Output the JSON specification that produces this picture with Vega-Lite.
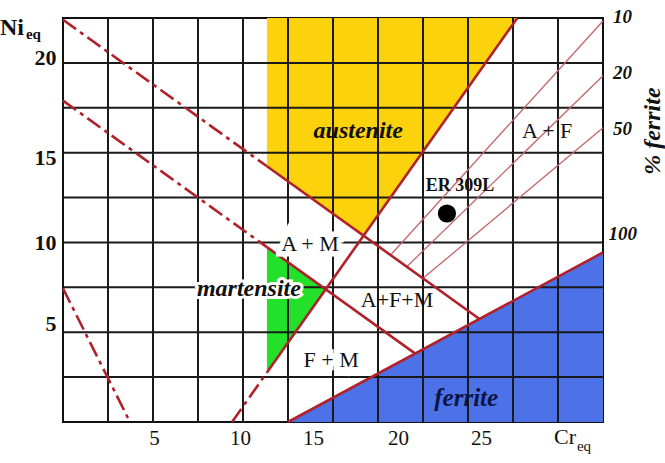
{
  "$schema": "https://vega.github.io/schema/vega-lite/v6.json",
  "width": 540,
  "height": 404,
  "autosize": {"type": "none"},
  "padding": {"left": 63, "top": 18, "right": 62, "bottom": 41},
  "background": "white",
  "config": {"view": {"stroke": "#111111", "strokeWidth": 2}, "font": "Liberation Serif"},
  "datasets": {
    "regions": [
      {"phase": "austenite", "x": 11.33, "y": 14.24, "y2": 22.5},
      {"phase": "austenite", "x": 16.70, "y": 10.38, "y2": 22.5},
      {"phase": "austenite", "x": 25.24, "y": 22.5, "y2": 22.5},
      {"phase": "martensite", "x": 11.33, "y": 2.76, "y2": 9.74},
      {"phase": "martensite", "x": 14.59, "y": 7.39, "y2": 7.39},
      {"phase": "ferrite", "x": 12.5, "y": 0, "y2": 0},
      {"phase": "ferrite", "x": 30, "y": 0, "y2": 9.44}
    ],
    "gridX": [{"x": 2.5}, {"x": 5}, {"x": 7.5}, {"x": 10}, {"x": 12.5}, {"x": 15}, {"x": 17.5}, {"x": 20}, {"x": 22.5}, {"x": 25}, {"x": 27.5}],
    "gridY": [{"y": 2.5}, {"y": 5}, {"y": 7.5}, {"y": 10}, {"y": 12.5}, {"y": 15}, {"y": 17.5}, {"y": 20}],
    "boundaries": [
      {"kind": "solid", "x": 11.33, "y": 9.74, "x2": 19.57, "y2": 3.81},
      {"kind": "solid", "x": 11.33, "y": 14.24, "x2": 23.14, "y2": 5.74},
      {"kind": "solid", "x": 11.33, "y": 2.76, "x2": 25.24, "y2": 22.5},
      {"kind": "solid", "x": 12.5, "y": 0, "x2": 30, "y2": 9.44},
      {"kind": "dashed", "x": 0, "y": 22.4, "x2": 11.33, "y2": 14.24},
      {"kind": "dashed", "x": 0, "y": 17.9, "x2": 11.33, "y2": 9.74},
      {"kind": "dashed", "x": 0, "y": 7.44, "x2": 3.72, "y2": 0},
      {"kind": "dashed", "x": 9.39, "y": 0, "x2": 11.33, "y2": 2.76},
      {"kind": "iso", "x": 18.2, "y": 9.3, "x2": 30, "y2": 22.33},
      {"kind": "iso", "x": 19.1, "y": 8.65, "x2": 30, "y2": 19.28},
      {"kind": "iso", "x": 20.0, "y": 8.0, "x2": 30, "y2": 16.39}
    ],
    "labels": [
      {"g": "phase", "t": "austenite", "x": 16.4, "y": 16.2},
      {"g": "phase", "t": "martensite", "x": 10.33, "y": 7.39},
      {"g": "ferrite", "t": "ferrite", "x": 22.4, "y": 1.33},
      {"g": "region", "t": "A + F", "x": 26.9, "y": 16.2},
      {"g": "region", "t": "A + M", "x": 13.72, "y": 9.94},
      {"g": "region", "t": "A+F+M", "x": 18.56, "y": 6.78},
      {"g": "region", "t": "F + M", "x": 14.9, "y": 3.44},
      {"g": "alloy", "t": "ER 309L", "x": 22.06, "y": 13.17},
      {"g": "pct", "t": "10", "x": 30.55, "y": 22.55},
      {"g": "pct", "t": "20", "x": 30.55, "y": 19.44},
      {"g": "pct", "t": "50", "x": 30.55, "y": 16.33},
      {"g": "pct", "t": "100", "x": 30.3, "y": 10.45},
      {"g": "pctTitle", "t": "% ferrite", "x": 32.8, "y": 16.2},
      {"g": "xTitle", "t": "Cr", "x": 28.5, "y": -0.83},
      {"g": "xSub", "t": "eq", "x": 28.55, "y": -1.36},
      {"g": "yTitle", "t": "Ni", "x": -2.17, "y": 21.94},
      {"g": "ySub", "t": "eq", "x": -2.06, "y": 21.6}
    ],
    "alloys": [{"name": "ER 309L", "x": 21.33, "y": 11.61}]
  },
  "layer": [
    {
      "data": {"name": "regions"},
      "mark": {"type": "area", "opacity": 1},
      "encoding": {
        "x": {"field": "x", "type": "quantitative", "title": null, "scale": {"domain": [0, 30], "nice": false, "zero": false},
              "axis": {"values": [5, 10, 15, 20, 25], "title": null, "grid": false, "ticks": false, "domain": false,
                       "labelFont": "Liberation Serif", "labelFontSize": 21, "labelColor": "#111111", "labelPadding": 5, "labelFlush": false,
                       "labelOffset": {"condition": [
                         {"test": "datum.value == 10", "value": -3},
                         {"test": "datum.value == 15", "value": -20},
                         {"test": "datum.value == 20", "value": -25},
                         {"test": "datum.value == 25", "value": -32}
                       ], "value": 1}}},
        "y": {"field": "y", "type": "quantitative", "title": null, "scale": {"domain": [0, 22.5], "nice": false, "zero": false},
              "axis": {"values": [5, 10, 15, 20], "title": null, "grid": false, "ticks": false, "domain": false,
                       "labelFont": "Liberation Serif", "labelFontSize": 22, "labelFontWeight": "bold", "labelColor": "#111111", "labelPadding": 7, "labelFlush": false,
                       "labelOffset": {"condition": [
                         {"test": "datum.value == 5", "value": -9},
                         {"test": "datum.value == 15", "value": 5},
                         {"test": "datum.value == 20", "value": -5}
                       ], "value": 0}}},
        "y2": {"field": "y2"},
        "color": {"field": "phase", "type": "nominal", "legend": null,
                  "scale": {"domain": ["austenite", "martensite", "ferrite"], "range": ["#FBD20B", "#23E02B", "#4D72E8"]}}
      }
    },
    {
      "data": {"name": "gridX"},
      "mark": {"type": "rule", "color": "#1a1a1a", "strokeWidth": 2},
      "encoding": {"x": {"field": "x", "type": "quantitative", "title": null}}
    },
    {
      "data": {"name": "gridY"},
      "mark": {"type": "rule", "color": "#1a1a1a", "strokeWidth": 2},
      "encoding": {"y": {"field": "y", "type": "quantitative", "title": null}}
    },
    {
      "data": {"name": "boundaries"},
      "transform": [{"filter": "datum.kind == 'iso'"}],
      "mark": {"type": "rule", "color": "#C2666C", "strokeWidth": 1.3},
      "encoding": {
        "x": {"field": "x", "type": "quantitative", "title": null},
        "y": {"field": "y", "type": "quantitative", "title": null},
        "x2": {"field": "x2"}, "y2": {"field": "y2"}
      }
    },
    {
      "data": {"name": "boundaries"},
      "transform": [{"filter": "datum.kind == 'solid'"}],
      "mark": {"type": "rule", "color": "#B0222B", "strokeWidth": 2.6},
      "encoding": {
        "x": {"field": "x", "type": "quantitative", "title": null},
        "y": {"field": "y", "type": "quantitative", "title": null},
        "x2": {"field": "x2"}, "y2": {"field": "y2"}
      }
    },
    {
      "data": {"name": "boundaries"},
      "transform": [{"filter": "datum.kind == 'dashed'"}],
      "mark": {"type": "rule", "color": "#B0222B", "strokeWidth": 2.6, "strokeDash": [16, 5, 4, 5]},
      "encoding": {
        "x": {"field": "x", "type": "quantitative", "title": null},
        "y": {"field": "y", "type": "quantitative", "title": null},
        "x2": {"field": "x2"}, "y2": {"field": "y2"}
      }
    },
    {
      "data": {"name": "labels"},
      "transform": [{"filter": "datum.t == 'A + M' || datum.t == 'F + M'"}],
      "mark": {"type": "text", "font": "Liberation Serif", "fontSize": 22, "stroke": "white", "strokeWidth": 11, "fill": "white"},
      "encoding": {
        "x": {"field": "x", "type": "quantitative", "title": null},
        "y": {"field": "y", "type": "quantitative", "title": null},
        "text": {"field": "t"}
      }
    },
    {
      "data": {"name": "labels"},
      "transform": [{"filter": "datum.t == 'martensite'"}],
      "mark": {"type": "text", "font": "Liberation Serif", "fontSize": 24, "fontWeight": "bold", "fontStyle": "italic", "stroke": "white", "strokeWidth": 6, "fill": "white"},
      "encoding": {
        "x": {"field": "x", "type": "quantitative", "title": null},
        "y": {"field": "y", "type": "quantitative", "title": null},
        "text": {"field": "t"}
      }
    },
    {
      "data": {"name": "labels"},
      "transform": [{"filter": "datum.g == 'phase'"}],
      "mark": {"type": "text", "font": "Liberation Serif", "fontSize": 24, "fontWeight": "bold", "fontStyle": "italic", "color": "#111111"},
      "encoding": {
        "x": {"field": "x", "type": "quantitative", "title": null},
        "y": {"field": "y", "type": "quantitative", "title": null},
        "text": {"field": "t"}
      }
    },
    {
      "data": {"name": "labels"},
      "transform": [{"filter": "datum.g == 'ferrite'"}],
      "mark": {"type": "text", "font": "Liberation Serif", "fontSize": 25, "fontWeight": "bold", "fontStyle": "italic", "color": "#0B1545"},
      "encoding": {
        "x": {"field": "x", "type": "quantitative", "title": null},
        "y": {"field": "y", "type": "quantitative", "title": null},
        "text": {"field": "t"}
      }
    },
    {
      "data": {"name": "labels"},
      "transform": [{"filter": "datum.g == 'region'"}],
      "mark": {"type": "text", "font": "Liberation Serif", "fontSize": 22, "color": "#111111"},
      "encoding": {
        "x": {"field": "x", "type": "quantitative", "title": null},
        "y": {"field": "y", "type": "quantitative", "title": null},
        "text": {"field": "t"}
      }
    },
    {
      "data": {"name": "labels"},
      "transform": [{"filter": "datum.g == 'alloy'"}],
      "mark": {"type": "text", "font": "Liberation Serif", "fontSize": 18, "fontWeight": "bold", "color": "#111111"},
      "encoding": {
        "x": {"field": "x", "type": "quantitative", "title": null},
        "y": {"field": "y", "type": "quantitative", "title": null},
        "text": {"field": "t"}
      }
    },
    {
      "data": {"name": "alloys"},
      "mark": {"type": "point", "filled": true, "color": "#000000", "opacity": 1, "size": 330},
      "encoding": {
        "x": {"field": "x", "type": "quantitative", "title": null},
        "y": {"field": "y", "type": "quantitative", "title": null}
      }
    },
    {
      "data": {"name": "labels"},
      "transform": [{"filter": "datum.g == 'pct'"}],
      "mark": {"type": "text", "font": "Liberation Serif", "fontSize": 19, "fontWeight": "bold", "fontStyle": "italic", "align": "left", "color": "#111111"},
      "encoding": {
        "x": {"field": "x", "type": "quantitative", "title": null},
        "y": {"field": "y", "type": "quantitative", "title": null},
        "text": {"field": "t"}
      }
    },
    {
      "data": {"name": "labels"},
      "transform": [{"filter": "datum.g == 'pctTitle'"}],
      "mark": {"type": "text", "font": "Liberation Serif", "fontSize": 24, "fontWeight": "bold", "fontStyle": "italic", "angle": 270, "color": "#111111"},
      "encoding": {
        "x": {"field": "x", "type": "quantitative", "title": null},
        "y": {"field": "y", "type": "quantitative", "title": null},
        "text": {"field": "t"}
      }
    },
    {
      "data": {"name": "labels"},
      "transform": [{"filter": "datum.g == 'xTitle'"}],
      "mark": {"type": "text", "font": "Liberation Serif", "fontSize": 22, "align": "right", "color": "#111111"},
      "encoding": {
        "x": {"field": "x", "type": "quantitative", "title": null},
        "y": {"field": "y", "type": "quantitative", "title": null},
        "text": {"field": "t"}
      }
    },
    {
      "data": {"name": "labels"},
      "transform": [{"filter": "datum.g == 'xSub'"}],
      "mark": {"type": "text", "font": "Liberation Serif", "fontSize": 15, "align": "left", "color": "#111111"},
      "encoding": {
        "x": {"field": "x", "type": "quantitative", "title": null},
        "y": {"field": "y", "type": "quantitative", "title": null},
        "text": {"field": "t"}
      }
    },
    {
      "data": {"name": "labels"},
      "transform": [{"filter": "datum.g == 'yTitle'"}],
      "mark": {"type": "text", "font": "Liberation Serif", "fontSize": 24, "fontWeight": "bold", "align": "right", "color": "#111111"},
      "encoding": {
        "x": {"field": "x", "type": "quantitative", "title": null},
        "y": {"field": "y", "type": "quantitative", "title": null},
        "text": {"field": "t"}
      }
    },
    {
      "data": {"name": "labels"},
      "transform": [{"filter": "datum.g == 'ySub'"}],
      "mark": {"type": "text", "font": "Liberation Serif", "fontSize": 15, "fontWeight": "bold", "align": "left", "color": "#111111"},
      "encoding": {
        "x": {"field": "x", "type": "quantitative", "title": null},
        "y": {"field": "y", "type": "quantitative", "title": null},
        "text": {"field": "t"}
      }
    }
  ]
}
